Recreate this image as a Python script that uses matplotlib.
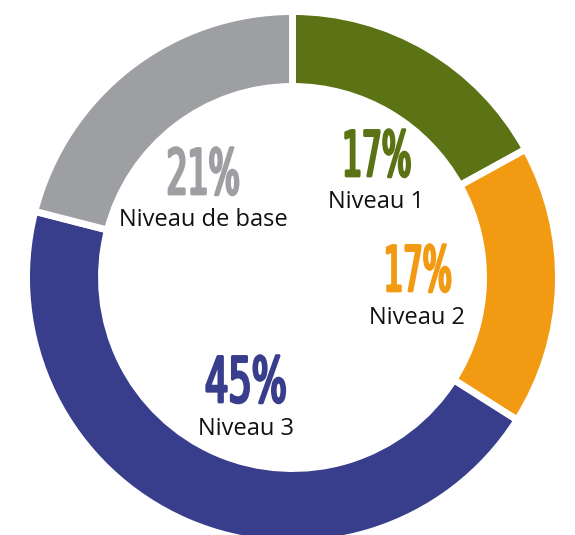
import matplotlib.pyplot as plt
from matplotlib.patheffects import AbstractPathEffect
from matplotlib.transforms import Affine2D

labels = ['Niveau 1', 'Niveau 2', 'Niveau 3', 'Niveau de base']
values = [17, 17, 45, 21]
colors = ['#5b7315', '#f39a13', '#383d8c', '#9d9fa2']

W, H = 575, 535
# text anchors in pixels from the top left: (x, percent baseline, label baseline, percent width)
spots = [(376, 176, 208, 64), (417, 291, 324, 63), (246, 402, 435, 78), (203, 194, 226, 69)]


class Squeeze(AbstractPathEffect):
    # narrow the glyphs to a given width in pixels, keep them centred
    def __init__(self, width, lw=2.0):
        super().__init__()
        self.width = width
        self.lw = lw

    def draw_path(self, renderer, gc, tpath, affine, rgbFace=None):
        ext = tpath.get_extents(affine)
        cx = (ext.x0 + ext.x1) / 2
        sx = self.width / ext.width
        t = affine + Affine2D().translate(-cx, 0).scale(sx, 1).translate(cx, 0)
        gc0 = renderer.new_gc()
        gc0.copy_properties(gc)
        gc0.set_linewidth(self.lw)
        gc0.set_foreground(rgbFace)
        gc0.set_joinstyle('round')
        renderer.draw_path(gc0, tpath, t, rgbFace)
        gc0.restore()


fig = plt.figure(figsize=(W / 100, H / 100), dpi=100)
ax = fig.add_axes([0, 0, 1, 1])

ax.pie(values, colors=colors, startangle=90, counterclock=False,
       center=(292.5, H - 277.5), radius=266,
       wedgeprops=dict(width=75, edgecolor='white', linewidth=5))

for lab, v, c, (x, yp, yl, w) in zip(labels, values, colors, spots):
    ax.text(x, H - yp, f'{v}%', color=c, fontsize=45,
            family='DejaVu Sans', ha='center', va='baseline',
            path_effects=[Squeeze(w)])
    ax.text(x, H - yl, lab, color='#111111', fontsize=17, family='Open Sans',
            ha='center', va='baseline')

ax.set_xlim(0, W)
ax.set_ylim(0, H)
ax.set_aspect('equal')
ax.axis('off')

plt.savefig('out.png', dpi=100)
